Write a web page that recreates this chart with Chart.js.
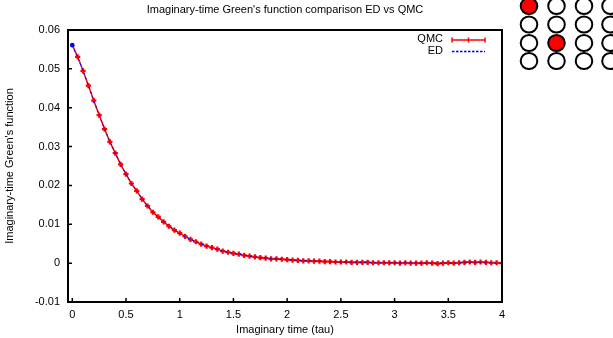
<!DOCTYPE html>
<html>
<head>
<meta charset="utf-8">
<script src="https://cdn.jsdelivr.net/npm/chart.js@4/dist/chart.umd.min.js"></script>
<style>
  html, body { margin: 0; padding: 0; background: #fff; }
  #wrap { width: 613px; height: 338px; }
</style>
</head>
<body>
<div id="wrap"><canvas id="greenChart" width="613" height="338"></canvas></div>
<script>
// imaginary time grid (tau)
const tau = [
  0.00, 0.05, 0.10, 0.15, 0.20, 0.25, 0.30, 0.35, 0.40, 0.45,
  0.50, 0.55, 0.60, 0.65, 0.70, 0.75, 0.80, 0.85, 0.90, 0.95,
  1.00, 1.05, 1.10, 1.15, 1.20, 1.25, 1.30, 1.35, 1.40, 1.45,
  1.50, 1.55, 1.60, 1.65, 1.70, 1.75, 1.80, 1.85, 1.90, 1.95,
  2.00, 2.05, 2.10, 2.15, 2.20, 2.25, 2.30, 2.35, 2.40, 2.45,
  2.50, 2.55, 2.60, 2.65, 2.70, 2.75, 2.80, 2.85, 2.90, 2.95,
  3.00, 3.05, 3.10, 3.15, 3.20, 3.25, 3.30, 3.35, 3.40, 3.45,
  3.50, 3.55, 3.60, 3.65, 3.70, 3.75, 3.80, 3.85, 3.90, 3.95,
  4.00
];

const qmc = [
  0.0561, 0.0531, 0.0495, 0.0457, 0.0418, 0.0381, 0.0345, 0.0312, 0.0283, 0.0254,
  0.0229, 0.0205, 0.0186, 0.0165, 0.0147, 0.0131, 0.0119, 0.0106, 0.0095, 0.0085,
  0.0077, 0.0069, 0.0061, 0.0055, 0.0049, 0.0044, 0.0040, 0.0036, 0.0031, 0.0028,
  0.0025, 0.0023, 0.0020, 0.0018, 0.0016, 0.0014, 0.0013, 0.0011, 0.0011, 0.0010,
  0.0009, 0.0008, 0.0007, 0.0006, 0.0006, 0.0005, 0.0005, 0.0004, 0.0004, 0.0003,
  0.0003, 0.0003, 0.0002, 0.0002, 0.0002, 0.0002, 0.0001, 0.0001, 0.0001, 0.0001,
  0.0001, 0.0000, 0.0001, 0.0000, 0.0000, 0.0000, 0.0001, 0.0000, -0.0001, 0.0000,
  0.0001, 0.0000, 0.0001, 0.0002, 0.0003, 0.0002, 0.0003, 0.0002, 0.0001, 0.0001,
  0.0000
];

const ed = [
  0.0561, 0.0530, 0.0495, 0.0457, 0.0419, 0.0381, 0.0346, 0.0313, 0.0283, 0.0255,
  0.0229, 0.0206, 0.0185, 0.0165, 0.0148, 0.0132, 0.0118, 0.0106, 0.0095, 0.0085,
  0.0076, 0.0068, 0.0061, 0.0055, 0.0049, 0.0044, 0.0040, 0.0035, 0.0031, 0.0028,
  0.0025, 0.0023, 0.0020, 0.0018, 0.0016, 0.0014, 0.0013, 0.0012, 0.0011, 0.0010,
  0.0009, 0.0008, 0.0007, 0.0007, 0.0006, 0.0005, 0.0005, 0.0004, 0.0004, 0.0003,
  0.0003, 0.0003, 0.0002, 0.0002, 0.0002, 0.0002, 0.0001, 0.0001, 0.0001, 0.0001,
  0.0001, 0.0001, 0.0001, 0.0001, 0.0001, 0.0000, 0.0000, 0.0000, 0.0000, 0.0000,
  0.0000, 0.0000, 0.0001, 0.0001, 0.0001, 0.0001, 0.0001, 0.0001, 0.0001, 0.0000,
  0.0000
];

const xTicks = [0, 0.5, 1, 1.5, 2, 2.5, 3, 3.5, 4];
const xTickLabels = ['0', '0.5', '1', '1.5', '2', '2.5', '3', '3.5', '4'];
const yTicks = [-0.01, 0, 0.01, 0.02, 0.03, 0.04, 0.05, 0.06];
const yTickLabels = ['-0.01', '0', '0.01', '0.02', '0.03', '0.04', '0.05', '0.06'];

// 4x4 lattice in the corner, 1 = filled
const lattice = [
  [1, 0, 0, 0],
  [0, 0, 0, 0],
  [0, 1, 0, 0],
  [0, 0, 0, 0]
];

const FONT = "'Liberation Sans', Arial, sans-serif";
Chart.defaults.font.family = FONT;
Chart.defaults.font.size = 11;
Chart.defaults.color = '#000';

const pts = (ys) => tau.map((t, i) => ({ x: t, y: ys[i] }));

const decor = {
  id: 'decor',
  afterDraw(chart) {
    const { ctx, chartArea: a, scales } = chart;
    ctx.save();

    // inward ticks, left + bottom only
    ctx.strokeStyle = '#000';
    ctx.lineWidth = 1.5;
    ctx.beginPath();
    yTicks.forEach(v => {
      const y = scales.y.getPixelForValue(v);
      ctx.moveTo(a.left, y); ctx.lineTo(a.left + 4, y);
    });
    xTicks.forEach(v => {
      const x = scales.x.getPixelForValue(v);
      ctx.moveTo(x, a.bottom); ctx.lineTo(x, a.bottom - 4);
    });
    ctx.stroke();

    // frame
    ctx.lineWidth = 2;
    ctx.strokeRect(a.left, a.top, a.right - a.left, a.bottom - a.top);

    // titles
    ctx.fillStyle = '#000';
    ctx.font = '11px ' + FONT;
    ctx.textAlign = 'center';
    ctx.textBaseline = 'middle';
    const cx = (a.left + a.right) / 2;
    ctx.fillText("Imaginary-time Green's function comparison ED vs QMC", cx, 10);
    ctx.fillText('Imaginary time (tau)', cx, 330);
    ctx.save();
    ctx.translate(10, (a.top + a.bottom) / 2);
    ctx.rotate(-Math.PI / 2);
    ctx.fillText("Imaginary-time Green's function", 0, 0);
    ctx.restore();

    // legend
    ctx.textAlign = 'right';
    ctx.fillText('QMC', 443, 39);
    ctx.fillText('ED', 443, 51);
    ctx.strokeStyle = '#ff0000';
    ctx.lineWidth = 1.5;
    ctx.beginPath();
    ctx.moveTo(452, 40); ctx.lineTo(485, 40);
    [452, 468.5, 485].forEach(x => { ctx.moveTo(x, 37.5); ctx.lineTo(x, 42.5); });
    ctx.stroke();
    ctx.strokeStyle = '#0000ff';
    ctx.lineWidth = 1.3;
    ctx.setLineDash([2.5, 1.5]);
    ctx.beginPath();
    ctx.moveTo(452, 51.5); ctx.lineTo(485, 51.5);
    ctx.stroke();
    ctx.setLineDash([]);

    // lattice picture
    const cols = [529, 556.5, 584, 610.5];
    const rows = [6, 24.5, 43, 61];
    ctx.lineWidth = 2;
    ctx.strokeStyle = '#000';
    lattice.forEach((row, r) => row.forEach((on, c) => {
      ctx.beginPath();
      ctx.ellipse(cols[c], rows[r], 8.3, 8, 0, 0, Math.PI * 2);
      if (on) { ctx.fillStyle = '#ff0000'; ctx.fill(); }
      ctx.stroke();
    }));

    ctx.restore();
  }
};

new Chart(document.getElementById('greenChart'), {
  type: 'line',
  data: {
    datasets: [
      {
        label: 'QMC',
        data: pts(qmc),
        borderColor: '#ff0000',
        backgroundColor: '#ff0000',
        borderWidth: 1.5,
        pointRadius: (c) => c.dataIndex === 0 ? 0 : 2.6,
        pointStyle: 'cross',
        pointBorderWidth: 2.2,
        order: 1
      },
      {
        label: 'ED',
        data: pts(ed),
        borderColor: '#0000ff',
        backgroundColor: '#0000ff',
        borderWidth: 1,
        borderDash: [2, 3],
        pointRadius: (c) => c.dataIndex === 0 ? 2.3 : 0,
        pointStyle: 'circle',
        pointBorderWidth: 0,
        order: 0
      }
    ]
  },
  options: {
    responsive: false,
    animation: false,
    events: [],
    layout: { padding: { top: 30, right: 111, left: 0, bottom: 0 } },
    plugins: { legend: { display: false }, title: { display: false }, tooltip: { enabled: false } },
    scales: {
      x: {
        type: 'linear',
        min: -0.04,
        max: 4,
        grid: { display: false, drawTicks: false },
        border: { display: false },
        afterFit(s) { s.height = 36; },
        afterBuildTicks(s) { s.ticks = xTicks.map(v => ({ value: v })); },
        ticks: {
          padding: 6,
          maxRotation: 0,
          autoSkip: false,
          callback: (v) => xTickLabels[xTicks.indexOf(v)]
        }
      },
      y: {
        type: 'linear',
        min: -0.01,
        max: 0.06,
        grid: { display: false, drawTicks: false },
        border: { display: false },
        afterFit(s) { s.width = 68; },
        afterBuildTicks(s) { s.ticks = yTicks.map(v => ({ value: v })); },
        ticks: {
          padding: 8,
          autoSkip: false,
          callback: (v) => yTickLabels[yTicks.indexOf(v)]
        }
      }
    }
  },
  plugins: [decor]
});
</script>
</body>
</html>
